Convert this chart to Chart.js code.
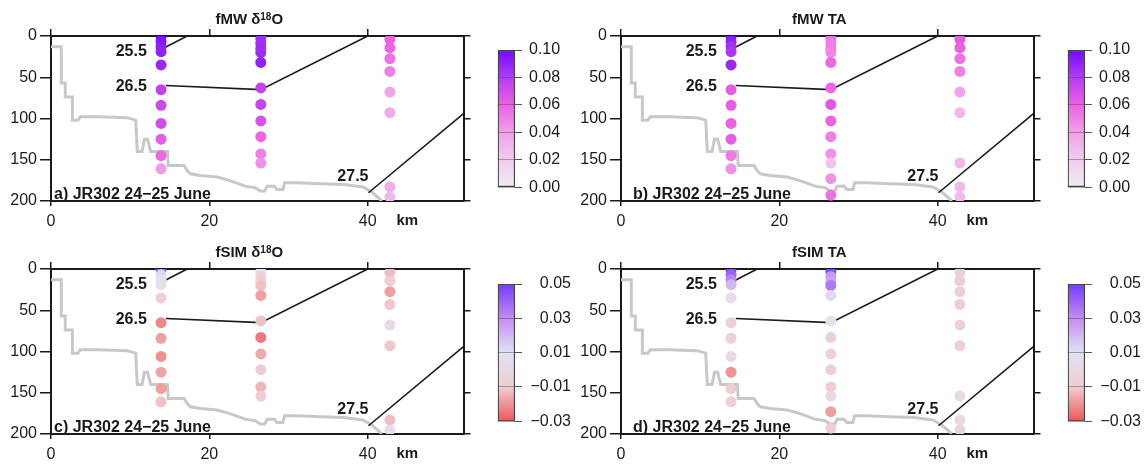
<!DOCTYPE html>
<html>
<head>
<meta charset="utf-8">
<script src="https://cdn.jsdelivr.net/npm/chart.js@4"></script>
<style>
  body { margin: 0; background: #fff; }
  #fig { position: relative; width: 1145px; height: 467px; overflow: hidden; }
  #fig canvas { position: absolute; }
</style>
</head>
<body>
<div id="fig">
  <canvas id="panelA" width="480" height="232" style="left:0;top:0"></canvas>
  <canvas id="barA" width="115" height="232" style="left:460px;top:0"></canvas>
  <canvas id="panelB" width="480" height="232" style="left:570px;top:0"></canvas>
  <canvas id="barB" width="115" height="232" style="left:1030px;top:0"></canvas>
  <canvas id="panelC" width="480" height="232" style="left:0;top:233px"></canvas>
  <canvas id="barC" width="111" height="232" style="left:460px;top:234px"></canvas>
  <canvas id="panelD" width="480" height="232" style="left:570px;top:233px"></canvas>
  <canvas id="barD" width="111" height="232" style="left:1030px;top:234px"></canvas>
</div>
<script>
// CTD stations along the section (km) and bottle depths (m)
const stationKm = [13.9, 26.5, 42.8];
const depthSt1 = [1, 7, 13, 19, 35, 65, 84, 106, 125, 145, 161];
const depthSt2 = [3, 9, 15, 20, 32, 63, 83, 103, 122, 143, 154, 173, 193];
const depthSt3 = [4, 14.5, 27.5, 43, 68, 93, 154, 183, 195];

// meteoric water fraction from d18O (null = no sample)
const mwO18St1 = [0.100, 0.095, 0.092, 0.090, 0.088, 0.076, 0.072, 0.070, 0.062, 0.058, 0.042];
const mwO18St2 = [0.085, 0.085, 0.086, 0.086, 0.090, 0.076, 0.075, 0.068, 0.058, 0.050, 0.045, null, null];
const mwO18St3 = [0.060, 0.058, 0.055, 0.050, 0.038, 0.036, null, 0.034, 0.028];

// meteoric water fraction from TA
const mwTaSt1 = [0.098, 0.090, 0.085, 0.082, 0.088, 0.062, 0.062, 0.060, 0.062, 0.052, 0.045];
const mwTaSt2 = [0.055, 0.050, 0.050, 0.048, 0.058, 0.058, 0.065, 0.060, 0.050, 0.045, 0.025, 0.045, 0.055];
const mwTaSt3 = [0.062, 0.060, 0.055, 0.050, 0.038, 0.030, 0.030, 0.028, 0.028];

// sea ice melt fraction from d18O
const simO18St1 = [0.042, 0.012, 0.008, 0.006, -0.010, -0.022, -0.018, -0.020, -0.017, -0.018, -0.012];
const simO18St2 = [0.010, -0.006, -0.010, -0.012, -0.018, -0.012, -0.024, -0.016, -0.010, -0.014, -0.010, null, null];
const simO18St3 = [-0.013, -0.010, -0.018, -0.011, 0.002, -0.011, null, -0.013, 0.006];

// sea ice melt fraction from TA
const simTaSt1 = [0.048, 0.040, 0.032, 0.020, 0.004, -0.008, -0.008, 0.002, -0.020, -0.010, -0.010];
const simTaSt2 = [0.046, 0.028, 0.024, 0.035, 0.012, 0.010, -0.009, -0.009, -0.010, -0.010, 0.001, -0.018, -0.009];
const simTaSt3 = [-0.008, -0.008, -0.008, -0.010, -0.008, -0.008, 0.002, 0.002, -0.007];

// seabed along the section
const bathyKm = [0, 1.3, 1.3, 1.8, 1.8, 2.7, 2.7, 3.4, 3.7, 6.0, 9.6, 10.7, 10.9, 11.5, 11.8, 12.2, 12.6, 14.7,
  14.8, 16.8, 17.2, 17.6, 18.8, 21.0, 22.5, 23.4, 24.5, 25.8, 26.4, 27.0, 27.3, 28.2, 28.5, 29.3, 29.5, 31.0,
  34.0, 37.0, 39.4, 40.5, 41.8];
const bathyDepth = [13, 13, 57, 57, 74, 74, 102, 102, 98, 98, 99, 102, 140, 140, 125, 125, 140, 140,
  157, 157, 163, 167, 169, 171, 175, 178, 182, 184, 188, 188, 182, 182, 186, 186, 178, 178,
  179, 180, 183, 189, 200];

// potential density isopycnals
const sigmaLevels = ['25.5', '26.5', '27.5'];
const sigmaKm = [[14.5, 17.2], [14.5, 26.5, 40.0], [40.1, 52.1]];
const sigmaDepth = [[13.3, 0], [60, 65, 0], [190, 94]];
const sigmaLabelKm = [12.1, 12.1, 40.1];
const sigmaLabelDepth = [19, 61, 171];

const xTicks = [0, 20, 40];
const yTicks = [0, 50, 100, 150, 200];
const mwTicks = [0, 0.02, 0.04, 0.06, 0.08, 0.10];
const simTicks = [-0.03, -0.01, 0.01, 0.03, 0.05];

const FONT = '"Liberation Sans", Arial, Helvetica, sans-serif';
const INK = '#1a1a1a';
Chart.defaults.font.family = FONT;
Chart.defaults.font.size = 16;
Chart.defaults.color = INK;

// colour tables
const MW_STOPS = [[0.00, [242, 236, 242]], [0.02, [240, 205, 238]], [0.04, [240, 160, 234]],
  [0.06, [238, 95, 228]], [0.08, [180, 60, 242]], [0.10, [112, 10, 252]]];
const SIM_STOPS = [[-0.03, [242, 85, 85]], [-0.01, [238, 206, 210]], [0.01, [226, 226, 244]],
  [0.03, [196, 140, 242]], [0.05, [112, 60, 250]]];

function rgb(c) { return `rgb(${c.map(Math.round).join(',')})`; }

function colourFor(stops, v) {
  if (v <= stops[0][0]) return rgb(stops[0][1]);
  for (let i = 1; i < stops.length; i++) {
    if (v <= stops[i][0]) {
      const [v0, c0] = stops[i - 1], [v1, c1] = stops[i];
      const t = (v - v0) / (v1 - v0);
      return rgb(c0.map((c, k) => c + (c1[k] - c) * t));
    }
  }
  return rgb(stops[stops.length - 1][1]);
}

function stationPoints(lists) {
  const pts = [];
  [depthSt1, depthSt2, depthSt3].forEach((depths, s) => {
    depths.forEach((d, i) => {
      const v = lists[s][i];
      if (v !== null) pts.push({ x: stationKm[s], y: d, v });
    });
  });
  return pts;
}

function fixedTicks(list) {
  return s => { s.ticks = list.map(v => ({ value: v })); };
}

// text drawn on top of each section: title, isopycnal labels, panel tag, distance unit
const sectionText = {
  id: 'sectionText',
  afterDraw(chart, args, opts) {
    const { ctx, chartArea: a, scales: { x, y } } = chart;
    ctx.save();
    ctx.fillStyle = INK;

    ctx.font = `bold 16px ${FONT}`;
    ctx.textAlign = 'right';
    ctx.textBaseline = 'middle';
    sigmaLevels.forEach((s, i) => {
      ctx.fillText(s, x.getPixelForValue(sigmaLabelKm[i]), y.getPixelForValue(sigmaLabelDepth[i]));
    });

    ctx.textAlign = 'left';
    ctx.textBaseline = 'alphabetic';
    ctx.fillText(opts.tag, a.left + opts.tagInset, a.bottom - 2);

    ctx.font = `bold 15px ${FONT}`;
    ctx.textAlign = 'center';
    ctx.textBaseline = 'middle';
    ctx.fillText('km', x.getPixelForValue(45), a.bottom + 20);

    // title, with the isotope mass number raised
    const main = `bold 15px ${FONT}`, sup = `bold 10px ${FONT}`;
    const parts = opts.title;
    const widths = parts.map((p, i) => { ctx.font = i === 1 ? sup : main; return ctx.measureText(p).width; });
    let tx = (a.left + a.right) / 2 - 8 - widths.reduce((s, w) => s + w, 0) / 2;
    const base = a.top - 12.5;
    ctx.textAlign = 'left';
    ctx.textBaseline = 'alphabetic';
    parts.forEach((p, i) => {
      ctx.font = i === 1 ? sup : main;
      ctx.fillText(p, tx, i === 1 ? base - 4 : base);
      tx += widths[i];
    });
    ctx.restore();
  }
};

function makeSection(id, cfg) {
  const canvas = document.getElementById(id);
  const W = canvas.width, H = canvas.height;
  const frame = { display: true, color: INK, width: 2 };
  const marks = len => ({ drawOnChartArea: false, drawTicks: true, tickLength: len, color: INK, lineWidth: 1.5 });

  const datasets = [{
    data: stationPoints(cfg.values),
    pointRadius: 5.5,
    pointHoverRadius: 5.5,
    pointBorderWidth: 0,
    pointBackgroundColor: c => (c.raw ? colourFor(cfg.stops, c.raw.v) : 'transparent'),
    order: 0
  }];
  sigmaKm.forEach((kms, i) => {
    datasets.push({
      data: kms.map((k, j) => ({ x: k, y: sigmaDepth[i][j] })),
      showLine: true, borderColor: INK, borderWidth: 1.6, pointRadius: 0, order: 1
    });
  });
  datasets.push({
    data: bathyKm.map((k, i) => ({ x: k, y: bathyDepth[i] })),
    showLine: true, borderColor: '#c8c8c8', borderWidth: 3, pointRadius: 0, order: 2
  });

  return new Chart(canvas, {
    type: 'scatter',
    data: { datasets },
    options: {
      responsive: false,
      animation: false,
      devicePixelRatio: 1,
      layout: { padding: 0 },
      events: [],
      plugins: {
        legend: { display: false },
        tooltip: { enabled: false },
        sectionText: { title: cfg.title, tag: cfg.tag, tagInset: cfg.tagInset }
      },
      scales: {
        x: {
          type: 'linear', position: 'bottom', min: 0, max: 52.1,
          afterBuildTicks: fixedTicks(xTicks),
          ticks: { padding: 6, maxRotation: 0, font: { size: 16 } },
          grid: marks(5), border: frame,
          afterFit: s => { s.height = H - 201; }
        },
        xTop: {
          type: 'linear', position: 'top', min: 0, max: 52.1,
          afterBuildTicks: fixedTicks(xTicks),
          ticks: { display: false },
          grid: marks(7), border: frame,
          afterFit: s => { s.height = 36; }
        },
        y: {
          type: 'linear', position: 'left', reverse: true, min: 0, max: 200,
          afterBuildTicks: fixedTicks(yTicks),
          ticks: { padding: 3, font: { size: 16 } },
          grid: marks(11), border: frame,
          afterFit: s => { s.width = 51; }
        },
        yRight: {
          type: 'linear', position: 'right', reverse: true, min: 0, max: 200,
          afterBuildTicks: fixedTicks(yTicks),
          ticks: { display: false },
          grid: marks(7), border: frame,
          afterFit: s => { s.width = W - 463.5; }
        }
      }
    },
    plugins: [sectionText]
  });
}

function makeColourBar(id, ticks, stops, align) {
  const canvas = document.getElementById(id);
  const W = canvas.width;
  const lo = ticks[0], hi = ticks[ticks.length - 1];
  const fill = c => {
    const { chart } = c;
    const ys = chart.scales.y;
    if (!chart.chartArea || !ys) return colourFor(stops, (lo + hi) / 2);
    const g = chart.ctx.createLinearGradient(0, ys.getPixelForValue(lo), 0, ys.getPixelForValue(hi));
    stops.forEach(([v, col]) => g.addColorStop((v - lo) / (hi - lo), rgb(col)));
    return g;
  };
  const fmt = v => (v < 0 ? '\u2212' : '') + Math.abs(v).toFixed(2);

  return new Chart(canvas, {
    type: 'bar',
    data: {
      labels: [''],
      datasets: [{
        data: [[lo, hi]],
        backgroundColor: fill,
        borderColor: '#444',
        borderWidth: 1.5,
        borderSkipped: false,
        barPercentage: 1,
        categoryPercentage: 1
      }]
    },
    options: {
      responsive: false,
      animation: false,
      devicePixelRatio: 1,
      events: [],
      layout: { padding: { left: 37.7, top: 50, bottom: 44.7, right: 0 } },
      plugins: { legend: { display: false }, tooltip: { enabled: false } },
      scales: {
        x: { display: false },
        y: {
          position: 'right', min: lo, max: hi,
          afterBuildTicks: fixedTicks(ticks),
          ticks: { padding: 7, crossAlign: align, callback: v => fmt(v), font: { size: 16 } },
          grid: { z: 1, color: 'rgba(70,70,70,0.45)', lineWidth: 1, tickColor: '#555', tickLength: 7 },
          border: { display: false },
          afterFit: s => { s.width = W - 55; }
        }
      }
    }
  });
}

makeSection('panelA', { values: [mwO18St1, mwO18St2, mwO18St3], stops: MW_STOPS,
  title: ['fMW \u03b4', '18', 'O'], tag: 'a) JR302 24\u221225 June', tagInset: 3 });
makeSection('panelB', { values: [mwTaSt1, mwTaSt2, mwTaSt3], stops: MW_STOPS,
  title: ['fMW TA'], tag: 'b) JR302 24\u221225 June', tagInset: 12 });
makeSection('panelC', { values: [simO18St1, simO18St2, simO18St3], stops: SIM_STOPS,
  title: ['fSIM \u03b4', '18', 'O'], tag: 'c) JR302 24\u221225 June', tagInset: 3 });
makeSection('panelD', { values: [simTaSt1, simTaSt2, simTaSt3], stops: SIM_STOPS,
  title: ['fSIM TA'], tag: 'd) JR302 24\u221225 June', tagInset: 12 });

makeColourBar('barA', mwTicks, MW_STOPS, 'near');
makeColourBar('barB', mwTicks, MW_STOPS, 'near');
makeColourBar('barC', simTicks, SIM_STOPS, 'far');
makeColourBar('barD', simTicks, SIM_STOPS, 'far');
</script>
</body>
</html>
